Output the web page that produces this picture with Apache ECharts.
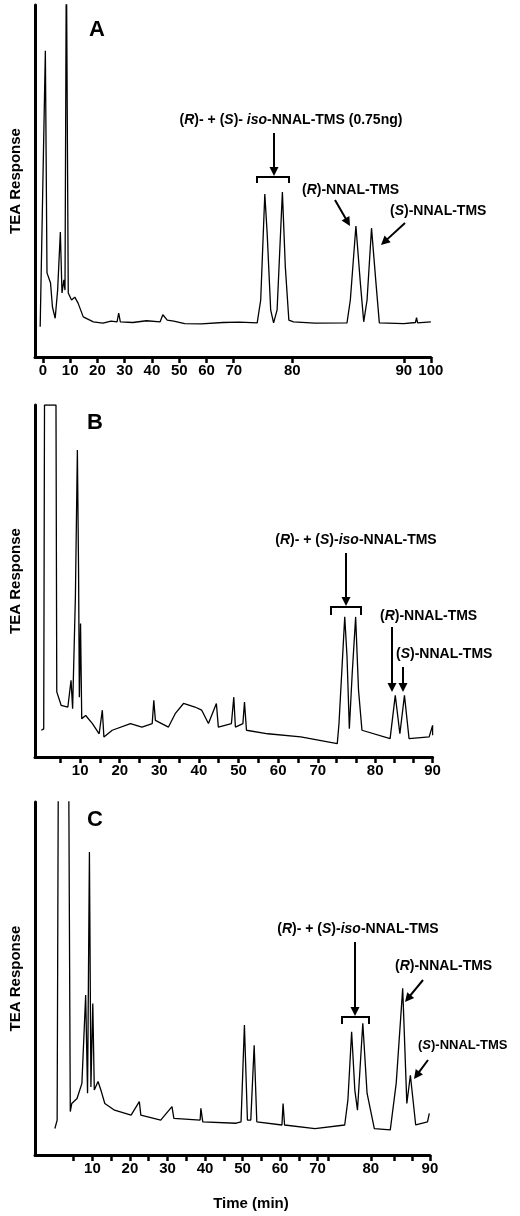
<!DOCTYPE html>
<html><head><meta charset="utf-8">
<script src="https://cdn.jsdelivr.net/npm/echarts@6/dist/echarts.min.js"></script>
<style>html,body{margin:0;background:#fff}#c{width:520px;height:1216px}</style>
</head><body><div id="c"></div>
<script>
// ---- data: [time (min), TEA response (% of full scale)] ----
const traceA = [[-1.0,8.6],[0.9,87],[1.5,23.9],[2.8,21],[3.5,14.2],[4.5,11],[5.4,19],[6.4,35.5],[7.0,18.2],[7.7,21.9],[8.1,19],[8.6,115],[9.3,18.2],[10.5,16.2],[11.7,17],[12.9,15.3],[14.8,11.4],[18.5,10],[22,9.6],[25,10.2],[27.2,10],[27.8,12.5],[28.4,10],[33,9.8],[38,10.3],[43,10],[44,12],[45.6,10.5],[48,10.2],[52,9.5],[58.1,9.4],[66,9.8],[71,9.9],[74.0,9.7],[74.6,16.2],[75.3,46.3],[75.7,35.2],[76.3,13.4],[76.8,9.7],[77.4,13.4],[78.3,46.9],[78.8,25.6],[79.4,10.5],[80.1,10],[82,9.6],[84.9,9.7],[85.2,16.2],[85.7,37.2],[86.1,21],[86.4,10],[86.7,16.2],[87.1,36.6],[87.5,21],[87.8,9.7],[90,9.5],[94.3,9.8],[94.7,11.2],[95.1,9.7],[100,10]];
const traceB = [[0.2,7.6],[0.8,8],[1,100],[3.9,100],[4.1,18.5],[5.2,14.7],[6.9,14.2],[7.7,21.8],[8.1,13.7],[8.8,45.5],[9.3,87.2],[9.6,53],[9.8,17],[10.1,37.9],[10.4,10.9],[11.4,11.8],[13.1,9.5],[14.8,6.6],[15.6,13.3],[16,5.7],[18.1,7.6],[22.7,9.5],[25.6,8.5],[28.2,9.5],[28.6,16.1],[29,10.4],[32.3,8.5],[34,12.3],[36.1,15.2],[39,14.2],[40.7,13.3],[42.4,9.5],[44.4,15.2],[44.9,8.5],[48.2,9.5],[48.8,17],[49.2,8.5],[51.1,9.5],[51.5,15.6],[52,7.6],[57.4,6.6],[65.7,5.7],[73.4,3.8],[73.7,9.5],[74.7,39.8],[75.1,28.4],[75.5,8],[76,23.7],[76.6,39.8],[77.1,19],[77.7,7.6],[82.6,5.2],[83.5,17.5],[84.3,6.6],[85.1,17.5],[85.9,5.2],[89.4,5.7],[90.6,9],[91.7,6.6],[92.6,6.2]];
const traceC = [[0,7.5],[0.6,9.9],[0.9,105],[3.7,105],[4.1,12.3],[4.5,14.6],[5.9,16],[7.2,20.3],[8.2,45.3],[8.7,17.5],[9.2,85.8],[9.6,19.3],[10.1,42.9],[10.5,18.4],[11.5,20.8],[12.4,17.9],[13.3,14.6],[15.9,12.7],[20.3,11.3],[22.5,15.1],[22.9,11.3],[28.2,9.9],[31.2,13.7],[31.7,10.4],[38.7,9.9],[38.9,13.2],[39.4,9.4],[48.3,9],[49.6,9.4],[50.5,36.8],[51.3,9.9],[52.2,9.9],[53.1,31.1],[53.8,9.4],[60.5,8.5],[60.8,14.6],[61.2,8.5],[69.3,7.5],[75.1,8.5],[75.7,15.6],[76.4,34.9],[77,18.4],[77.5,12.7],[78.5,37.3],[79.3,17.5],[80.6,7.5],[83.3,7.1],[84.3,20.3],[85.4,47.2],[86.1,14.6],[86.7,22.6],[87.6,8.5],[89.6,9.4],[89.9,11.8]];
// tick labels (min)
const ticksA = [0,10,20,30,40,50,60,70,80,90,100];
const labelsA = ticksA;
const ticksB = [5,10,15,20,25,30,35,40,45,50,55,60,65,70,73.3,76.7,80,83.3,86.7,90];
const labelsB = [10,20,30,40,50,60,70,80,90];
const ticksC = [5,10,15,20,25,30,35,40,45,50,55,60,65,70,72,80,84,87,90];
const labelsC = [10,20,30,40,50,60,70,80,90];
// the original time axes are stretched after 70 min: [segment start, segment end, stretch]
const stretchA = [[70,80,2.15],[80,90,4.09],[90,100,0.99]];
const stretchB = [[70,90,1.45]];
const stretchC = [[70,80,1.417],[80,90,1.575]];

function mk(stretch){return t=>{let p=Math.min(t,70);for(const [a,b,f] of stretch){if(t>a)p+=(Math.min(t,b)-a)*f;}return p;};}
const pA=mk(stretchA),pB=mk(stretchB),pC=mk(stretchC);

const chart = echarts.init(document.getElementById('c'));
const F='"Liberation Sans", Arial, sans-serif';
function panel(i,cfg){
  const p=cfg.p, pmin=cfg.pmin, pmax=p(cfg.tmax);
  const labMap={}; cfg.labels.forEach(l=>labMap[p(l).toFixed(3)]=String(l));
  return {
    grid:{left:cfg.left,top:cfg.top,width:(pmax-pmin)*cfg.scale,height:cfg.h},
    x:{type:'value',gridIndex:i,min:pmin,max:pmax,
      axisLine:{onZero:false,lineStyle:{color:'#000',width:3}},
      axisTick:{customValues:cfg.ticks.map(p),length:6,lineStyle:{color:'#000',width:2.5}},
      axisLabel:{customValues:cfg.labels.map(p),formatter:v=>labMap[v.toFixed(3)]||'',color:'#000',fontFamily:F,fontWeight:'bold',fontSize:15,margin:6},
      splitLine:{show:false}},
    y:{type:'value',gridIndex:i,min:0,max:100,axisLine:{show:true,onZero:false,lineStyle:{color:'#000',width:3}},axisTick:{show:false},axisLabel:{show:false},splitLine:{show:false},
      name:'TEA Response',nameLocation:'middle',nameRotate:90,nameGap:12,nameTextStyle:{color:'#000',fontFamily:F,fontWeight:'bold',fontSize:15}},
    s:{type:'line',xAxisIndex:i,yAxisIndex:i,data:cfg.data.map(d=>[p(d[0]),d[1]]),showSymbol:false,clip:true,lineStyle:{color:'#000',width:1.3},animation:false}
  };
}
const P=[
 panel(0,{p:pA,pmin:-2.9,tmax:100,scale:2.74,left:33,top:5,h:352,ticks:ticksA,labels:labelsA,data:traceA}),
 panel(1,{p:pB,pmin:-1.4,tmax:90,scale:3.99,left:32,top:405,h:352,ticks:ticksB,labels:labelsB,data:traceB}),
 panel(2,{p:pC,pmin:-5.3,tmax:90,scale:3.81,left:29,top:802,h:353,ticks:ticksC,labels:labelsC,data:traceC})
];
const rich={b:{fontFamily:F,fontWeight:'bold',fontSize:14,color:'#000'},i:{fontFamily:F,fontWeight:'bold',fontStyle:'italic',fontSize:14,color:'#000'},
  bs:{fontFamily:F,fontWeight:'bold',fontSize:13,color:'#000'},is:{fontFamily:F,fontWeight:'bold',fontStyle:'italic',fontSize:13,color:'#000'}};
const G=[];
function txt(x,y,s,align){G.push({type:'text',x,y,style:{text:s,rich,align:align||'left',verticalAlign:'middle'}});}
function arrow(x1,y1,x2,y2){
  const a=Math.atan2(y2-y1,x2-x1),L=9,W=4.5;
  G.push({type:'line',shape:{x1,y1,x2:x2-Math.cos(a)*L*0.8,y2:y2-Math.sin(a)*L*0.8},style:{stroke:'#000',lineWidth:2}});
  G.push({type:'polygon',shape:{points:[[x2,y2],[x2-L*Math.cos(a)+W*Math.sin(a),y2-L*Math.sin(a)-W*Math.cos(a)],[x2-L*Math.cos(a)-W*Math.sin(a),y2-L*Math.sin(a)+W*Math.cos(a)]]},style:{fill:'#000'}});
}
function bracket(x1,x2,y,d){G.push({type:'polyline',shape:{points:[[x1,y+d],[x1,y],[x2,y],[x2,y+d]]},style:{stroke:'#000',lineWidth:2,fill:null}});}
function big(x,y,s){G.push({type:'text',x,y,style:{text:s,fontFamily:F,fontWeight:'bold',fontSize:22,fill:'#000',align:'center',verticalAlign:'middle'}});}
const isoFull='{b|(}{i|R}{b|)- + (}{i|S}{b|)- }{i|iso}{b|-NNAL-TMS (0.75ng)}';
const iso='{b|(}{i|R}{b|)- + (}{i|S}{b|)-}{i|iso}{b|-NNAL-TMS}';
const R='{b|(}{i|R}{b|)-NNAL-TMS}', S='{b|(}{i|S}{b|)-NNAL-TMS}', Ss='{bs|(}{is|S}{bs|)-NNAL-TMS}';
// A
big(97,30,'A');
txt(291,120,isoFull,'center'); arrow(274,133,274,176); bracket(257,289,177,6);
txt(302,190,R); arrow(335,200,350,226);
txt(390,211,S); arrow(405,223,381,245);
// B
big(95,423,'B');
txt(356,540,iso,'center'); arrow(346,553,346,606); bracket(331,361,607,8);
txt(380,616,R); arrow(392,627,392,692);
txt(396,654,S); arrow(403,667,403,692);
// C
big(95,820,'C');
txt(358,929,iso,'center'); arrow(355,942,355,1016); bracket(342,369,1017,7);
txt(395,966,R); arrow(423,980,405,1002);
txt(418,1045,Ss); arrow(428,1060,414,1079);
G.push({type:'text',x:251,y:1204,style:{text:'Time (min)',fontFamily:F,fontWeight:'bold',fontSize:15,fill:'#000',align:'center',verticalAlign:'middle'}});

chart.setOption({animation:false,
  grid:P.map(q=>q.grid),xAxis:P.map(q=>q.x),yAxis:P.map(q=>q.y),series:P.map(q=>q.s),graphic:G});
</script></body></html>
